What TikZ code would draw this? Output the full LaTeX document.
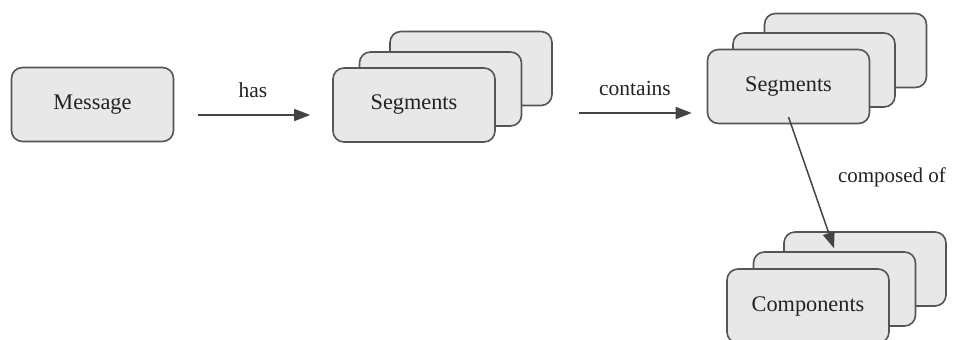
\documentclass[tikz,border=0pt]{standalone}
\usepackage{fontspec}
\setmainfont{Liberation Serif}
\usetikzlibrary{arrows.meta,calc}
\definecolor{boxfill}{HTML}{E8E8E8}
\definecolor{boxline}{HTML}{555555}
\definecolor{arrcol}{HTML}{444444}
\definecolor{txt}{HTML}{222222}
\tikzset{
  box/.style={draw=boxline, fill=boxfill, line width=1.6pt, rounded corners=11pt,
    minimum width=162pt, minimum height=74pt, inner sep=0pt, text=txt,
    font=\fontsize{22.3}{24}\selectfont},
  arr/.style={draw=arrcol, line width=1.5pt, -{Triangle[length=16pt,width=12pt]}},
  lbl/.style={text=txt, font=\fontsize{21.5}{24}\selectfont, inner sep=0pt}
}
\begin{document}
\begin{tikzpicture}[x=1pt,y=-1pt]
\useasboundingbox (0,0) rectangle (956,340);
% Message
\node[box] (msg) at (92.5,104.5) {Message};
% Segments stack 1
\node[box] (segAc) at (471,68.5) {};
\node[box] (segAb) at (440.5,89) {};
\node[box] (segA) at (414,105) {Segments};
% Segments stack 2
\node[box] (segBc) at (845.5,50.5) {};
\node[box] (segBb) at (814,70) {};
\node[box] (segB) at (788.5,86.5) {Segments};
% Components stack
\node[box] (compc) at (865,269) {};
\node[box] (compb) at (834.5,289) {};
\node[box] (comp) at (808,306) {Components};
% connectors
\draw[arr, shorten <=24pt, shorten >=22pt] ([yshift=-10.5pt]msg.east) -- ([yshift=-10pt]segA.west);
\node[lbl] (hasl) at (253,90) {has};
\draw[arr, shorten <=83pt, shorten >=15pt] ([yshift=-8pt]segA.east) -- ([yshift=-26.5pt]segB.west);
\node[lbl] (contl) at (635,88) {contains};
\coordinate (cstart) at ([yshift=-30.5pt]segB.center);
\coordinate (cend) at ([shift={(-31,17)}]compc.north);
\draw[arr] (cstart) -- (cend);
\node[lbl, font=\fontsize{21}{24}\selectfont] (compl) at (892,177) {composed of};
\end{tikzpicture}
\end{document}
